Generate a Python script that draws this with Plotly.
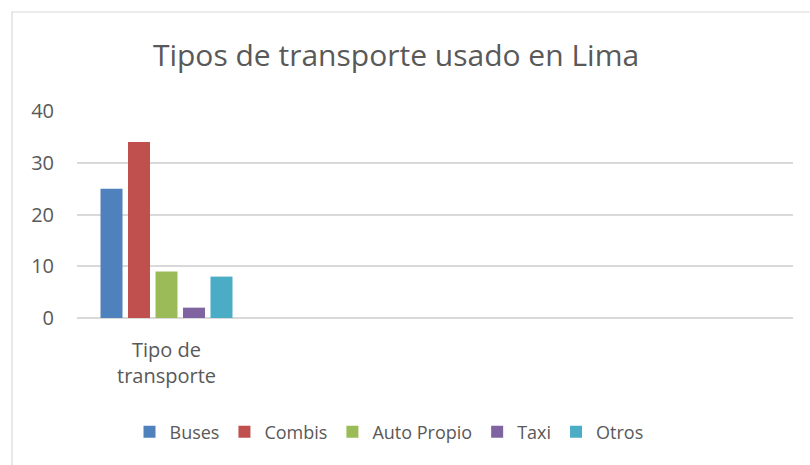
import plotly.graph_objects as go

# ---- data ----
categories = ["Tipo de<br>transporte", " ", "  ", "   "]
series_names = ["Buses", "Combis", "Auto Propio", "Taxi", "Otros"]
buses = [25, None, None, None]
combis = [34, None, None, None]
auto_propio = [9, None, None, None]
taxi = [2, None, None, None]
otros = [8, None, None, None]
y_ticks = [0, 10, 20, 30, 40]
title_text = "Tipos de transporte usado en Lima"

colors = ["#4F81BD", "#C0504D", "#9BBB59", "#8064A2", "#4BACC6"]
values = [buses, combis, auto_propio, taxi, otros]

FONT = "Open Sans, Noto Sans, sans-serif"
TXT = "#595959"

W, H = 810, 465
L, R, T, B = 77, 17, 111, 147

fig = go.Figure()
for name, vals, col in zip(series_names, values, colors):
    fig.add_trace(go.Bar(name=name, x=categories, y=vals, marker_color=col,
                         marker_line_width=0))

pw = W - L - R
ph = H - T - B
fig.update_layout(
    width=W, height=H,
    margin=dict(l=L, r=R, t=T, b=B),
    paper_bgcolor="white", plot_bgcolor="white",
    barmode="group", bargap=0.232, bargroupgap=0.2,
    font=dict(family=FONT, color=TXT, size=20),
    title=dict(text=title_text, x=396 / W, xanchor="center",
               y=1 - 55 / H, yanchor="middle", yref="container", xref="container",
               font=dict(family=FONT, size=30, color=TXT)),
    showlegend=True,
    legend=dict(orientation="h", xref="container", yref="container",
                x=389 / W, xanchor="center", y=1 - 432 / H, yanchor="middle",
                font=dict(family=FONT, size=18, color=TXT),
                itemwidth=30, traceorder="normal"),
    xaxis=dict(showgrid=False, showline=False, ticks="", zeroline=False,
               tickfont=dict(family=FONT, size=20, color=TXT),
               ticklabelstandoff=18),
    yaxis=dict(range=[0, 40], tickvals=y_ticks, showgrid=True,
               gridcolor="#D9D9D9", gridwidth=1.5, zeroline=True,
               zerolinecolor="#D9D9D9", zerolinewidth=1.5, showline=False,
               ticks="", tickfont=dict(family=FONT, size=20, color=TXT),
               ticklabelstandoff=22),
    shapes=[dict(type="rect", xref="paper", yref="paper",
                 x0=(12 - L) / pw, x1=1.2, y0=-1.0, y1=(H - B - 12) / ph,
                 line=dict(color="#D9D9D9", width=1.2), fillcolor="rgba(0,0,0,0)",
                 layer="below")],
)

fig.write_html("out.html", config={"displayModeBar": False},
               post_script="document.body.style.margin='0';document.body.style.overflow='hidden';")
